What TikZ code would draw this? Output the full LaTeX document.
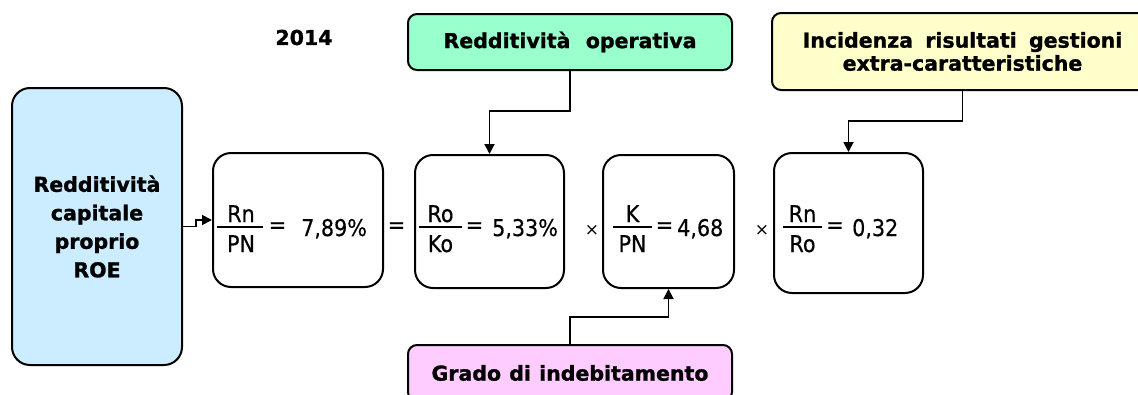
\documentclass[tikz,border=0pt]{standalone}
\usepackage{fontspec}
\setmainfont{DejaVu Sans}[BoldFeatures={FakeBold=1.2}]
\newfontfamily\regf[FakeStretch=0.9,FakeBold=0.4]{DejaVu Sans}
\usetikzlibrary{arrows.meta,calc}
\definecolor{roeblue}{HTML}{CCECFF}
\definecolor{opgreen}{HTML}{99FFCC}
\definecolor{extyellow}{HTML}{FFFFCC}
\definecolor{debpink}{HTML}{FFCCFF}
\begin{document}
\begin{tikzpicture}[x=1pt,y=-1pt,
  fbox/.style={draw=black, line width=2pt, rounded corners=18pt, inner sep=0pt, align=center},
  hbox/.style={draw=black, line width=2pt, rounded corners=9pt, inner sep=0pt, align=center},
  tbold/.style={font=\bfseries\fontsize{20.5}{28}\selectfont},
  freg/.style={font=\regf\fontsize{23}{27}\selectfont, inner sep=0pt},
  fop/.style={font=\fontsize{17}{20}\selectfont, inner sep=0pt},
  conn/.style={draw, line width=1.8pt, -{Triangle[length=10pt,width=10pt]}},
  fbar/.style={line width=1.8pt}]
\useasboundingbox (0,0) rectangle (1138,394);

% boxes
\node[fbox, fill=roeblue, minimum width=170pt, minimum height=277pt, tbold,
  font=\bfseries\fontsize{20.5}{28.5}\selectfont] (roe) at (97,226.5)
  {Redditività\\capitale\\proprio\\ROE};
\node[fbox, minimum width=170pt, minimum height=134pt] (b1) at (298,220) {};
\node[fbox, minimum width=149pt, minimum height=133pt] (b2) at (489.5,221.5) {};
\node[fbox, minimum width=131pt, minimum height=133pt] (b3) at (668.5,221.5) {};
\node[fbox, minimum width=149pt, minimum height=140pt] (b4) at (848.5,223) {};

\node[hbox, fill=opgreen, minimum width=324pt, minimum height=56pt, tbold] (green) at (570,42)
  {Redditività\hspace{0.75em}operativa};
\node[hbox, fill=extyellow, minimum width=381pt, minimum height=77pt, tbold,
  font=\bfseries\fontsize{20.5}{23}\selectfont] (yellow) at (962.5,51.5)
  {Incidenza\hspace{0.6em}risultati\hspace{0.6em}gestioni\\extra-caratteristiche};
\node[hbox, fill=debpink, minimum width=324pt, minimum height=56pt, tbold] (pink) at (570,373)
  {Grado\hspace{0.4em}di\hspace{0.4em}indebitamento};

\node[tbold, inner sep=0pt] (year) at (304,37.5) {2014};

% connectors
\draw[conn] (roe.east) -- ++(13,0) |- (b1.west);
\draw[conn] (green.south) -- ++(0,40) -| (b2.north);
\draw[conn] (pink.north) -- ++(0,-27) -| (b3.south);
\draw[conn] (yellow.south) -- ++(0,30) -| (b4.north);

% formula 1
\node[freg, anchor=base] (n1) at (241,222) {Rn};
\node[freg, anchor=base] (d1) at (241,252) {PN};
\draw[fbar] (217,227) -- (263,227);
\node[freg] (e1) at (277.5,227.5) {=};
\node[freg, anchor=base west] (v1) at (301,236) {7,89\%};
% formula 2
\node[freg, anchor=base] (n2) at (440.5,222) {Ro};
\node[freg, anchor=base] (d2) at (440.5,252) {Ko};
\draw[fbar] (419,227) -- (462,227);
\node[freg] (e2) at (474.5,227.5) {=};
\node[freg, anchor=base west] (v2) at (492,236) {5,33\%};
% formula 3
\node[freg, anchor=base] (n3) at (632.5,222) {K};
\node[freg, anchor=base] (d3) at (632.5,252) {PN};
\draw[fbar] (613,227) -- (652,227);
\node[freg] (e3) at (664.5,227.5) {=};
\node[freg, anchor=base west] (v3) at (677,236) {4,68};
% formula 4
\node[freg, anchor=base] (n4) at (802.5,222) {Rn};
\node[freg, anchor=base] (d4) at (802.5,252) {Ro};
\draw[fbar] (783,227) -- (822,227);
\node[freg] (e4) at (835,227.5) {=};
\node[freg, anchor=base west] (v4) at (852,236) {0,32};

% operators between boxes
\node[freg] (op1) at (396.5,227.5) {=};
\node[fop] (op2) at (592,230) {×};
\node[fop] (op3) at (762,230) {×};
\end{tikzpicture}
\end{document}
